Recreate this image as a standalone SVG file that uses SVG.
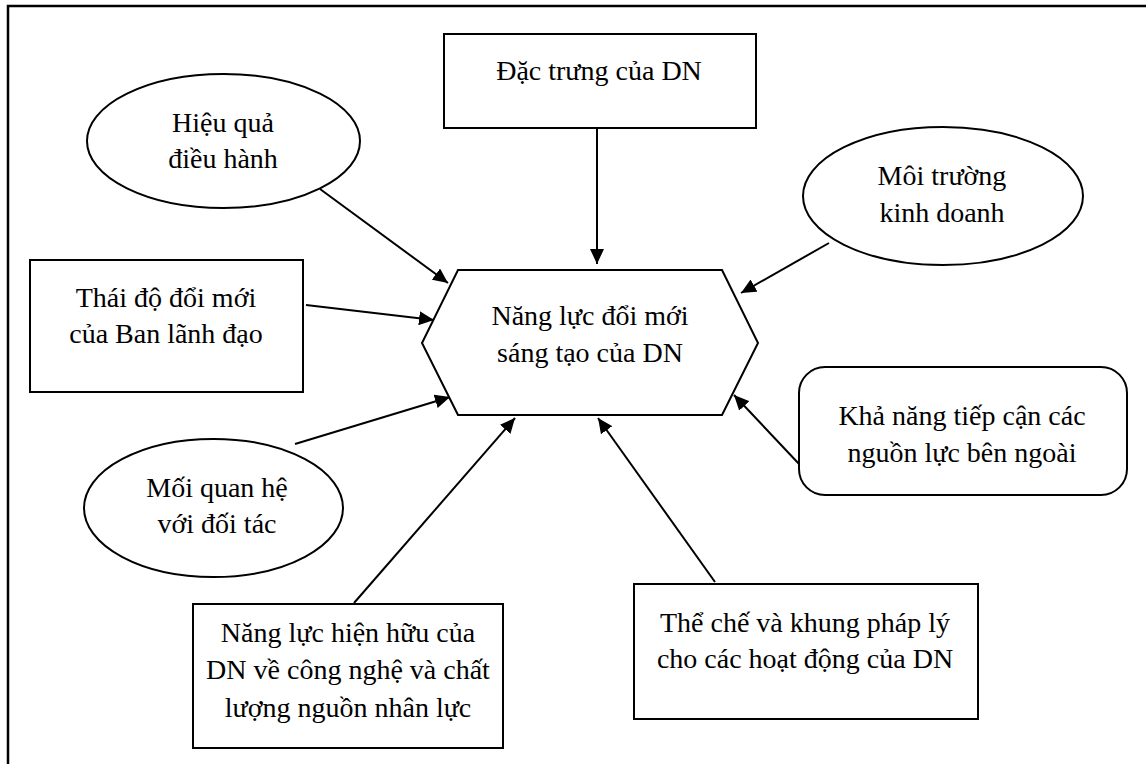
<svg xmlns="http://www.w3.org/2000/svg" width="1146" height="764" viewBox="0 0 1146 764">
<defs>
<marker id="arr" markerUnits="userSpaceOnUse" markerWidth="16" markerHeight="14" refX="15" refY="7" orient="auto">
<path d="M0,0 L15,7 L0,14 Z" fill="#000"/>
</marker>
<style>
.shape{fill:#fff;stroke:#000;stroke-width:2}
.lbl{font-family:'Liberation Serif','Times New Roman',serif;font-size:28px;fill:#000;text-anchor:middle}
.con{stroke:#000;stroke-width:2;fill:none;marker-end:url(#arr)}
</style>
</defs>
<rect x="0" y="0" width="1146" height="764" fill="#fff"/>
<path d="M8,764 L8,6 L1146,6" fill="none" stroke="#000" stroke-width="2.5"/>

<g id="connectors">
<line class="con" x1="597" y1="129" x2="597" y2="264"/>
<line class="con" x1="320" y1="189" x2="448" y2="283"/>
<line class="con" x1="306" y1="305" x2="434" y2="320"/>
<line class="con" x1="295" y1="444" x2="450" y2="397"/>
<line class="con" x1="354" y1="603" x2="515" y2="418"/>
<line class="con" x1="715" y1="582" x2="598" y2="418"/>
<line class="con" x1="800" y1="465" x2="734" y2="395"/>
<line class="con" x1="829" y1="243" x2="741" y2="293"/>
</g>

<g id="center">
<polygon class="shape" points="458,270 722,270 758,343 722,415 458,415 422,343"/>
<text class="lbl" x="590" y="325">Năng lực đổi mới</text>
<text class="lbl" x="590" y="362">sáng tạo của DN</text>
</g>

<g id="dactrung">
<rect class="shape" x="444" y="34" width="312" height="94"/>
<text class="lbl" x="599" y="80">Đặc trưng của DN</text>
</g>

<g id="hieuqua">
<ellipse class="shape" cx="223.5" cy="141" rx="136.5" ry="67"/>
<text class="lbl" x="223" y="132">Hiệu quả</text>
<text class="lbl" x="223" y="168">điều hành</text>
</g>

<g id="moitruong">
<ellipse class="shape" cx="943" cy="196" rx="140" ry="69"/>
<text class="lbl" x="942" y="185">Môi trường</text>
<text class="lbl" x="942" y="222">kinh doanh</text>
</g>

<g id="thaido">
<rect class="shape" x="30" y="260" width="273" height="132"/>
<text class="lbl" x="166" y="307">Thái độ đổi mới</text>
<text class="lbl" x="166" y="343">của Ban lãnh đạo</text>
</g>

<g id="moiquanhe">
<ellipse class="shape" cx="213.5" cy="508" rx="129.5" ry="69"/>
<text class="lbl" x="217" y="497">Mối quan hệ</text>
<text class="lbl" x="217" y="533">với đối tác</text>
</g>

<g id="khanang">
<rect class="shape" x="799" y="367" width="328" height="128" rx="26" ry="26"/>
<text class="lbl" x="962" y="425">Khả năng tiếp cận các</text>
<text class="lbl" x="962" y="462">nguồn lực bên ngoài</text>
</g>

<g id="nangluc">
<rect class="shape" x="193" y="604" width="310" height="144"/>
<text class="lbl" x="348" y="642">Năng lực hiện hữu của</text>
<text class="lbl" x="348" y="679">DN về công nghệ và chất</text>
<text class="lbl" x="348" y="717">lượng nguồn nhân lực</text>
</g>

<g id="thereche">
<rect class="shape" x="634" y="584" width="344" height="135"/>
<text class="lbl" x="805" y="632">Thể chế và khung pháp lý</text>
<text class="lbl" x="805" y="668">cho các hoạt động của DN</text>
</g>
</svg>
